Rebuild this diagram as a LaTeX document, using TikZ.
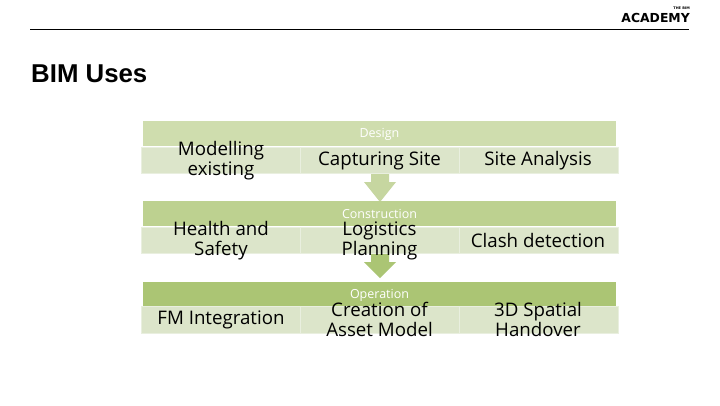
\documentclass[tikz,border=0pt]{standalone}
\usepackage{fontspec}
\setmainfont{Open Sans}
\newfontfamily\titlefont{Liberation Sans}
\newfontfamily\logofont{DejaVu Sans}
\definecolor{hdA}{HTML}{CFDDAE}
\definecolor{hdB}{HTML}{BDD190}
\definecolor{hdC}{HTML}{ABC574}
\definecolor{cell}{HTML}{DCE5CA}
\definecolor{cellline}{HTML}{E9EFDF}
\definecolor{arrA}{HTML}{C6D6A0}
\definecolor{arrB}{HTML}{ABC574}
\tikzset{
  x=1pt,y=-1pt,
  hdr/.style={minimum width=473pt,minimum height=25pt,inner sep=0pt,anchor=north west},
  hdrlabel/.style={inner sep=0pt,text=white,font=\fontsize{12.5}{13}\selectfont},
  cellbox/.style={minimum width=159.3pt,minimum height=26.5pt,inner sep=0pt,fill=cell,draw=cellline,line width=1pt,anchor=north west},
  lbl/.style={inner sep=0pt,align=center,text=black,font=\fontsize{18.7}{20}\selectfont}
}
\begin{document}
\begin{tikzpicture}
\useasboundingbox (0,0) rectangle (720,405);
\fill[white] (0,0) rectangle (720,405);
% header rule and logo
\coordinate (ruleL) at (30,29);
\coordinate (ruleR) at (689,29);
\draw[black,line width=0.8pt] (ruleL) -- (ruleR);
\node[anchor=east,inner sep=0pt,font=\logofont\bfseries\fontsize{12.4}{13}\selectfont] (logo) at (690,17.5) {ACADEMY};
\node[anchor=east,inner sep=0pt,font=\logofont\bfseries\fontsize{3.5}{4}\selectfont] (logotop) at (690,8.5) {THE BIM};
\node[anchor=west,inner sep=0pt,font=\titlefont\bfseries\fontsize{25.8}{27}\selectfont] (title) at (31,74) {BIM Uses};
% arrows
\fill[arrA] (371,174) -- (389,174) -- (389,182) -- (396,182) -- (380,202) -- (364,182) -- (371,182) -- cycle;
\fill[arrB] (371,254) -- (389,254) -- (389,262) -- (396,262) -- (380,278) -- (364,262) -- (371,262) -- cycle;
% headers
\node[hdr,fill=hdA] (h1) at (143,121) {};
\node[hdr,fill=hdB] (h2) at (143,201) {};
\node[hdr,fill=hdC] (h3) at (143,282) {};
\node[hdrlabel] (t1) at (379.5,134) {Design};
\node[hdrlabel] (t2) at (379.5,214) {Construction};
\node[hdrlabel] (t3) at (379.5,295) {Operation};
% rows
\node[cellbox] (a1) at (141,146.5) {};
\node[cellbox] (a2) at (300,146.5) {};
\node[cellbox] (a3) at (459,146.5) {};
\node[cellbox] (b1) at (141,226.5) {};
\node[cellbox] (b2) at (300,226.5) {};
\node[cellbox] (b3) at (459,226.5) {};
\node[cellbox] (c1) at (141,306) {};
\node[cellbox] (c2) at (300,306) {};
\node[cellbox] (c3) at (459,306) {};
\node[lbl] (la1) at (221,160.5) {Modelling\\existing};
\node[lbl] (la2) at (379.5,160.5) {Capturing Site};
\node[lbl] (la3) at (538,160.5) {Site Analysis};
\node[lbl] (lb1) at (221,240.5) {Health and\\Safety};
\node[lbl] (lb2) at (379.5,240.5) {Logistics\\Planning};
\node[lbl] (lb3) at (538,240.5) {Clash detection};
\node[lbl] (lc1) at (221,319.5) {FM Integration};
\node[lbl] (lc2) at (379.5,319.5) {Creation of\\Asset Model};
\node[lbl] (lc3) at (538,319.5) {3D Spatial\\Handover};
\end{tikzpicture}
\end{document}
